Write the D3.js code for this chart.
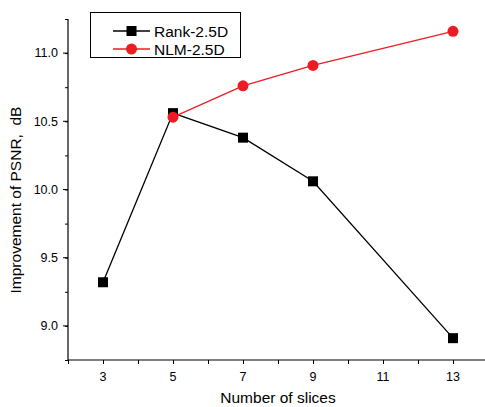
<!DOCTYPE html>
<html>
<head>
<meta charset="utf-8">
<script src="https://cdn.jsdelivr.net/npm/d3@7"></script>
<style>
  body { margin: 0; background: #fff; }
  text { font-family: "Liberation Sans", Arial, sans-serif; fill: #000; white-space: pre; }
</style>
</head>
<body>
<script>
// data
const slices = [3, 5, 7, 9, 13]
const rankVals = [9.32, 10.56, 10.38, 10.06, 8.91]
const nlmSlices = [5, 7, 9, 13]
const nlmVals = [10.53, 10.76, 10.91, 11.16]
const xTicks = [3, 5, 7, 9, 11, 13]
const yTicks = [9.0, 9.5, 10.0, 10.5, 11.0]

const W = 485, H = 407

const svg = d3.select("body").append("svg")
    .attr("width", W).attr("height", H)

const x = d3.scaleLinear().domain([2, 14]).range([68, 488])
const y = d3.scaleLinear().domain([8.75, 11.25]).range([360, 19])

// x axis (major + minor ticks)
const gx = svg.append("g").attr("transform", `translate(0,${y.range()[0]})`)
gx.append("line").attr("x1", x(2)).attr("x2", W).attr("stroke", "#000").attr("stroke-width", 1.2)
gx.call(d3.axisBottom(x).tickValues(d3.range(2, 15, 1)).tickSize(4).tickFormat(""))
  .call(g => g.select(".domain").remove())
gx.selectAll("text.lab").data(xTicks).join("text")
    .attr("class", "lab")
    .attr("x", d => x(d)).attr("y", 21)
    .attr("text-anchor", "middle").attr("font-size", 12.5)
    .text(d => d)

// y axis
const gy = svg.append("g").attr("transform", `translate(${x.range()[0]},0)`)
gy.call(d3.axisLeft(y).tickValues(d3.range(8.75, 11.26, 0.25)).tickSize(3).tickFormat(""))
  .call(g => g.select(".domain").remove())
gy.append("line").attr("y1", y(8.75)).attr("y2", y(11.25)).attr("stroke", "#000").attr("stroke-width", 1.2)
gy.selectAll("line.major").data(yTicks).join("line")
    .attr("class", "major")
    .attr("x1", -5).attr("x2", 0).attr("y1", d => y(d)).attr("y2", d => y(d))
    .attr("stroke", "#000")
gy.selectAll("text.lab").data(yTicks).join("text")
    .attr("class", "lab")
    .attr("x", -10).attr("y", d => y(d)).attr("dy", "0.35em")
    .attr("text-anchor", "end").attr("font-size", 12.5)
    .text(d => d.toFixed(1))
svg.selectAll(".tick line").attr("stroke", "#000")

// axis titles
svg.append("text").attr("x", 278).attr("y", 403)
    .attr("text-anchor", "middle").attr("font-size", 15.5)
    .text("Number of slices")
svg.append("text")
    .attr("transform", "translate(21,200) rotate(-90)")
    .attr("text-anchor", "middle").attr("font-size", 15.5)
    .text("Improvement of PSNR,  dB")

const line = d3.line().x(d => x(d[0])).y(d => y(d[1]))
const rank = slices.map((s, i) => [s, rankVals[i]])
const nlm = nlmSlices.map((s, i) => [s, nlmVals[i]])

svg.append("path").datum(rank).attr("d", line)
    .attr("fill", "none").attr("stroke", "#000").attr("stroke-width", 1.3)
svg.append("path").datum(nlm).attr("d", line)
    .attr("fill", "none").attr("stroke", "#ed1c24").attr("stroke-width", 1.3)

svg.selectAll("rect.rk").data(rank).join("rect")
    .attr("class", "rk")
    .attr("x", d => x(d[0]) - 5).attr("y", d => y(d[1]) - 5)
    .attr("width", 10).attr("height", 10).attr("fill", "#000")
svg.selectAll("circle.nl").data(nlm).join("circle")
    .attr("class", "nl")
    .attr("cx", d => x(d[0])).attr("cy", d => y(d[1]))
    .attr("r", 5.5).attr("fill", "#ed1c24")

// legend
const lg = svg.append("g")
lg.append("rect").attr("x", 90.5).attr("y", 12.5).attr("width", 150).attr("height", 45)
    .attr("fill", "#fff").attr("stroke", "#000").attr("stroke-width", 1)
const legendItems = [
    {name: "Rank-2.5D", color: "#000", shape: "square", yy: 31},
    {name: "NLM-2.5D", color: "#ed1c24", shape: "circle", yy: 49}
]
legendItems.forEach(it => {
    lg.append("line").attr("x1", 113).attr("x2", 150).attr("y1", it.yy).attr("y2", it.yy)
        .attr("stroke", it.color).attr("stroke-width", 1.3)
    if (it.shape == "square")
        lg.append("rect").attr("x", 131.5 - 5).attr("y", it.yy - 5).attr("width", 10).attr("height", 10).attr("fill", it.color)
    else
        lg.append("circle").attr("cx", 131.5).attr("cy", it.yy).attr("r", 5.5).attr("fill", it.color)
    lg.append("text").attr("x", 154).attr("y", it.yy).attr("dy", "0.36em")
        .attr("font-size", 15.5).text(it.name)
})
</script>
</body>
</html>
